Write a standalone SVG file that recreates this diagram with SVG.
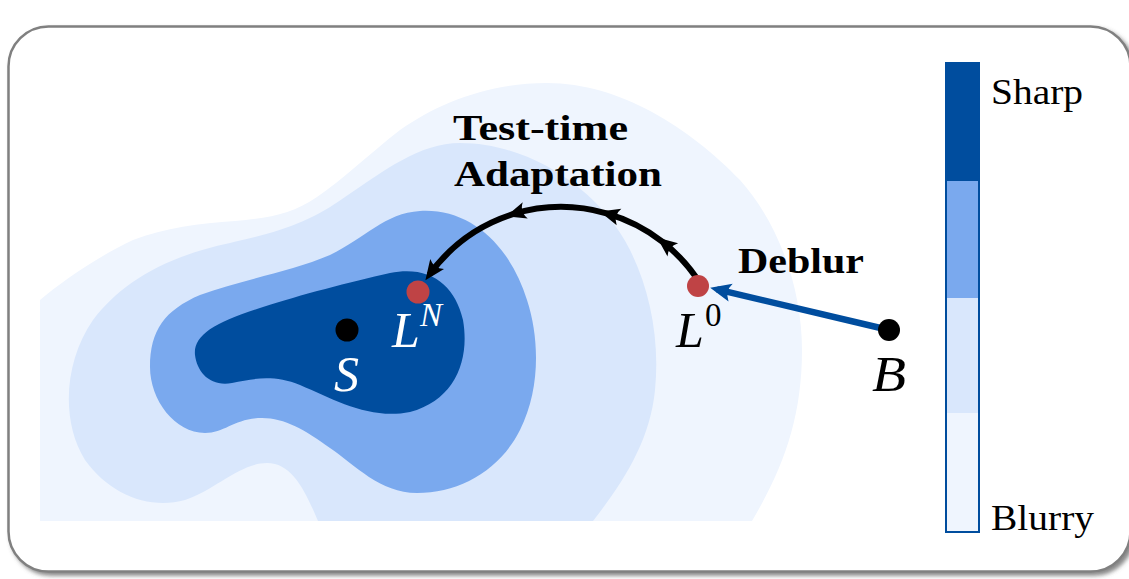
<svg xmlns="http://www.w3.org/2000/svg" width="1129" height="579" viewBox="0 0 1129 579">
<defs>
  <style>
    .serif { font-family: "Liberation Serif", "DejaVu Serif", serif; }
    .bold { font-weight: bold; font-size: 35px; fill: #000; }
    .legend { font-size: 36px; fill: #000; }
    .math { font-style: italic; font-size: 50px; }
    .sup { font-size: 33px; }
    .c0 { fill: #eff5fe; }
    .c1 { fill: #d9e7fc; }
    .c2 { fill: #7aa9ee; }
    .c3 { fill: #004d9e; }
    .arc { fill: none; stroke: #000; stroke-width: 6; }
    .red { fill: #bf4345; }
    .blk { fill: #000; }
  </style>
  <filter id="shadow" x="-5%" y="-5%" width="110%" height="115%">
    <feDropShadow dx="3" dy="3" stdDeviation="2" flood-color="#555" flood-opacity="0.7"/>
  </filter>
  <clipPath id="plot">
    <rect x="40" y="0" width="900" height="521"/>
  </clipPath>
  <marker id="ahBlack" viewBox="-14 -10 22 20" markerWidth="22" markerHeight="20" refX="0" refY="0" orient="auto" markerUnits="userSpaceOnUse">
    <path d="M7,0 L-13,-8.5 Q-7,0 -13,8.5 Z" fill="#000"/>
  </marker>
  <marker id="ahBlue" viewBox="-15 -10 23 20" markerWidth="23" markerHeight="20" refX="0" refY="0" orient="auto" markerUnits="userSpaceOnUse">
    <path d="M7,0 L-14,-9 Q-8,0 -14,9 Z" fill="#004d9e"/>
  </marker>
</defs>

<g id="frame">
  <rect x="8.5" y="26.5" width="1122" height="545" rx="40" ry="40" fill="#fff" stroke="#808080" stroke-width="2.5" filter="url(#shadow)"/>
</g>

<g id="landscape" clip-path="url(#plot)">
  <path class="c0" d="M40,300 C60,283 95,258 133,240 C165,228 200,223 235,221 C270,218 292,214 317,197 C342,180 368,155 400,130 C440,102 490,83 547,83 C620,83 690,128 740,180 C780,225 802,290 802,350 C802,420 782,470 752,521 L40,521 Z"/>
  <path class="c1" d="M318,521 C305,490 292,463 267,463 C240,463 215,490 185,500 C150,510 110,495 85,460 C60,420 65,360 93,320 C120,285 160,258 230,243 C280,232 310,222 345,197 C385,170 420,143 460,143 C530,143 600,190 630,250 C650,290 660,340 655,390 C650,440 625,480 593,521 Z"/>
  <path class="c2" d="M150,367 C150,330 165,310 200,295 C240,280 290,272 330,255 C365,238 385,213 420,211 C470,208 510,245 527,300 C540,340 540,390 520,430 C500,470 460,493 417,493 C380,493 355,465 330,448 C305,430 285,418 262,418 C235,418 225,433 205,433 C175,433 150,400 150,367 Z"/>
  <path class="c3" d="M195,355 C193,335 215,322 263,307 C300,295 350,282 390,273 C430,265 455,285 463,320 C470,360 455,400 410,412 C370,420 335,400 300,385 C275,375 255,378 232,383 C210,387 197,372 195,355 Z"/>
</g>

<g id="colorbar">
  <rect x="946" y="63" width="33" height="118" fill="#004d9e"/>
  <rect x="946" y="181" width="33" height="117" fill="#7aa9ee"/>
  <rect x="946" y="298" width="33" height="115" fill="#d9e7fc"/>
  <rect x="946" y="413" width="33" height="119" fill="#eff5fe"/>
  <rect x="946" y="63" width="33" height="469" fill="none" stroke="#004d9e" stroke-width="2"/>
  <text class="serif legend" x="991" y="104" textLength="92" lengthAdjust="spacingAndGlyphs">Sharp</text>
  <text class="serif legend" x="991" y="530" textLength="103" lengthAdjust="spacingAndGlyphs">Blurry</text>
</g>

<g id="connectors">
  <path class="arc" d="M700.9,284.6 A165,165 0 0 0 662.6,241.9" marker-end="url(#ahBlack)"/>
  <path class="arc" d="M662.6,241.9 A165,165 0 0 0 606.5,213.4" marker-end="url(#ahBlack)"/>
  <path class="arc" d="M606.5,213.4 A165,165 0 0 0 512.8,214.2" marker-end="url(#ahBlack)"/>
  <path class="arc" d="M512.8,214.2 A165,165 0 0 0 429.5,274.5" marker-end="url(#ahBlack)"/>
  <path d="M889,330 L717,289.4" fill="none" stroke="#004d9e" stroke-width="6.5" marker-end="url(#ahBlue)"/>
</g>

<g id="labels">
  <text class="serif bold" x="453" y="140" textLength="175" lengthAdjust="spacingAndGlyphs">Test-time</text>
  <text class="serif bold" x="454" y="186" textLength="208" lengthAdjust="spacingAndGlyphs">Adaptation</text>
  <text class="serif bold" x="738" y="273" textLength="126" lengthAdjust="spacingAndGlyphs">Deblur</text>
</g>

<g id="node-S">
  <circle class="blk" cx="347" cy="330" r="11.5"/>
  <text class="serif math" x="334" y="391" fill="#fff">S</text>
</g>
<g id="node-LN">
  <circle class="red" cx="418" cy="292" r="11.5"/>
  <text class="serif math" x="392" y="347" fill="#fff">L</text>
  <text class="serif math sup" x="420" y="326" fill="#fff">N</text>
</g>
<g id="node-L0">
  <circle class="red" cx="698" cy="286" r="11"/>
  <text class="serif math" x="676" y="347" fill="#000">L</text>
  <text class="serif sup" x="705" y="326" fill="#000" font-size="29">0</text>
</g>
<g id="node-B">
  <circle class="blk" cx="889" cy="330" r="11"/>
  <text class="serif math" x="872" y="391" fill="#000" textLength="34" lengthAdjust="spacingAndGlyphs">B</text>
</g>
</svg>
